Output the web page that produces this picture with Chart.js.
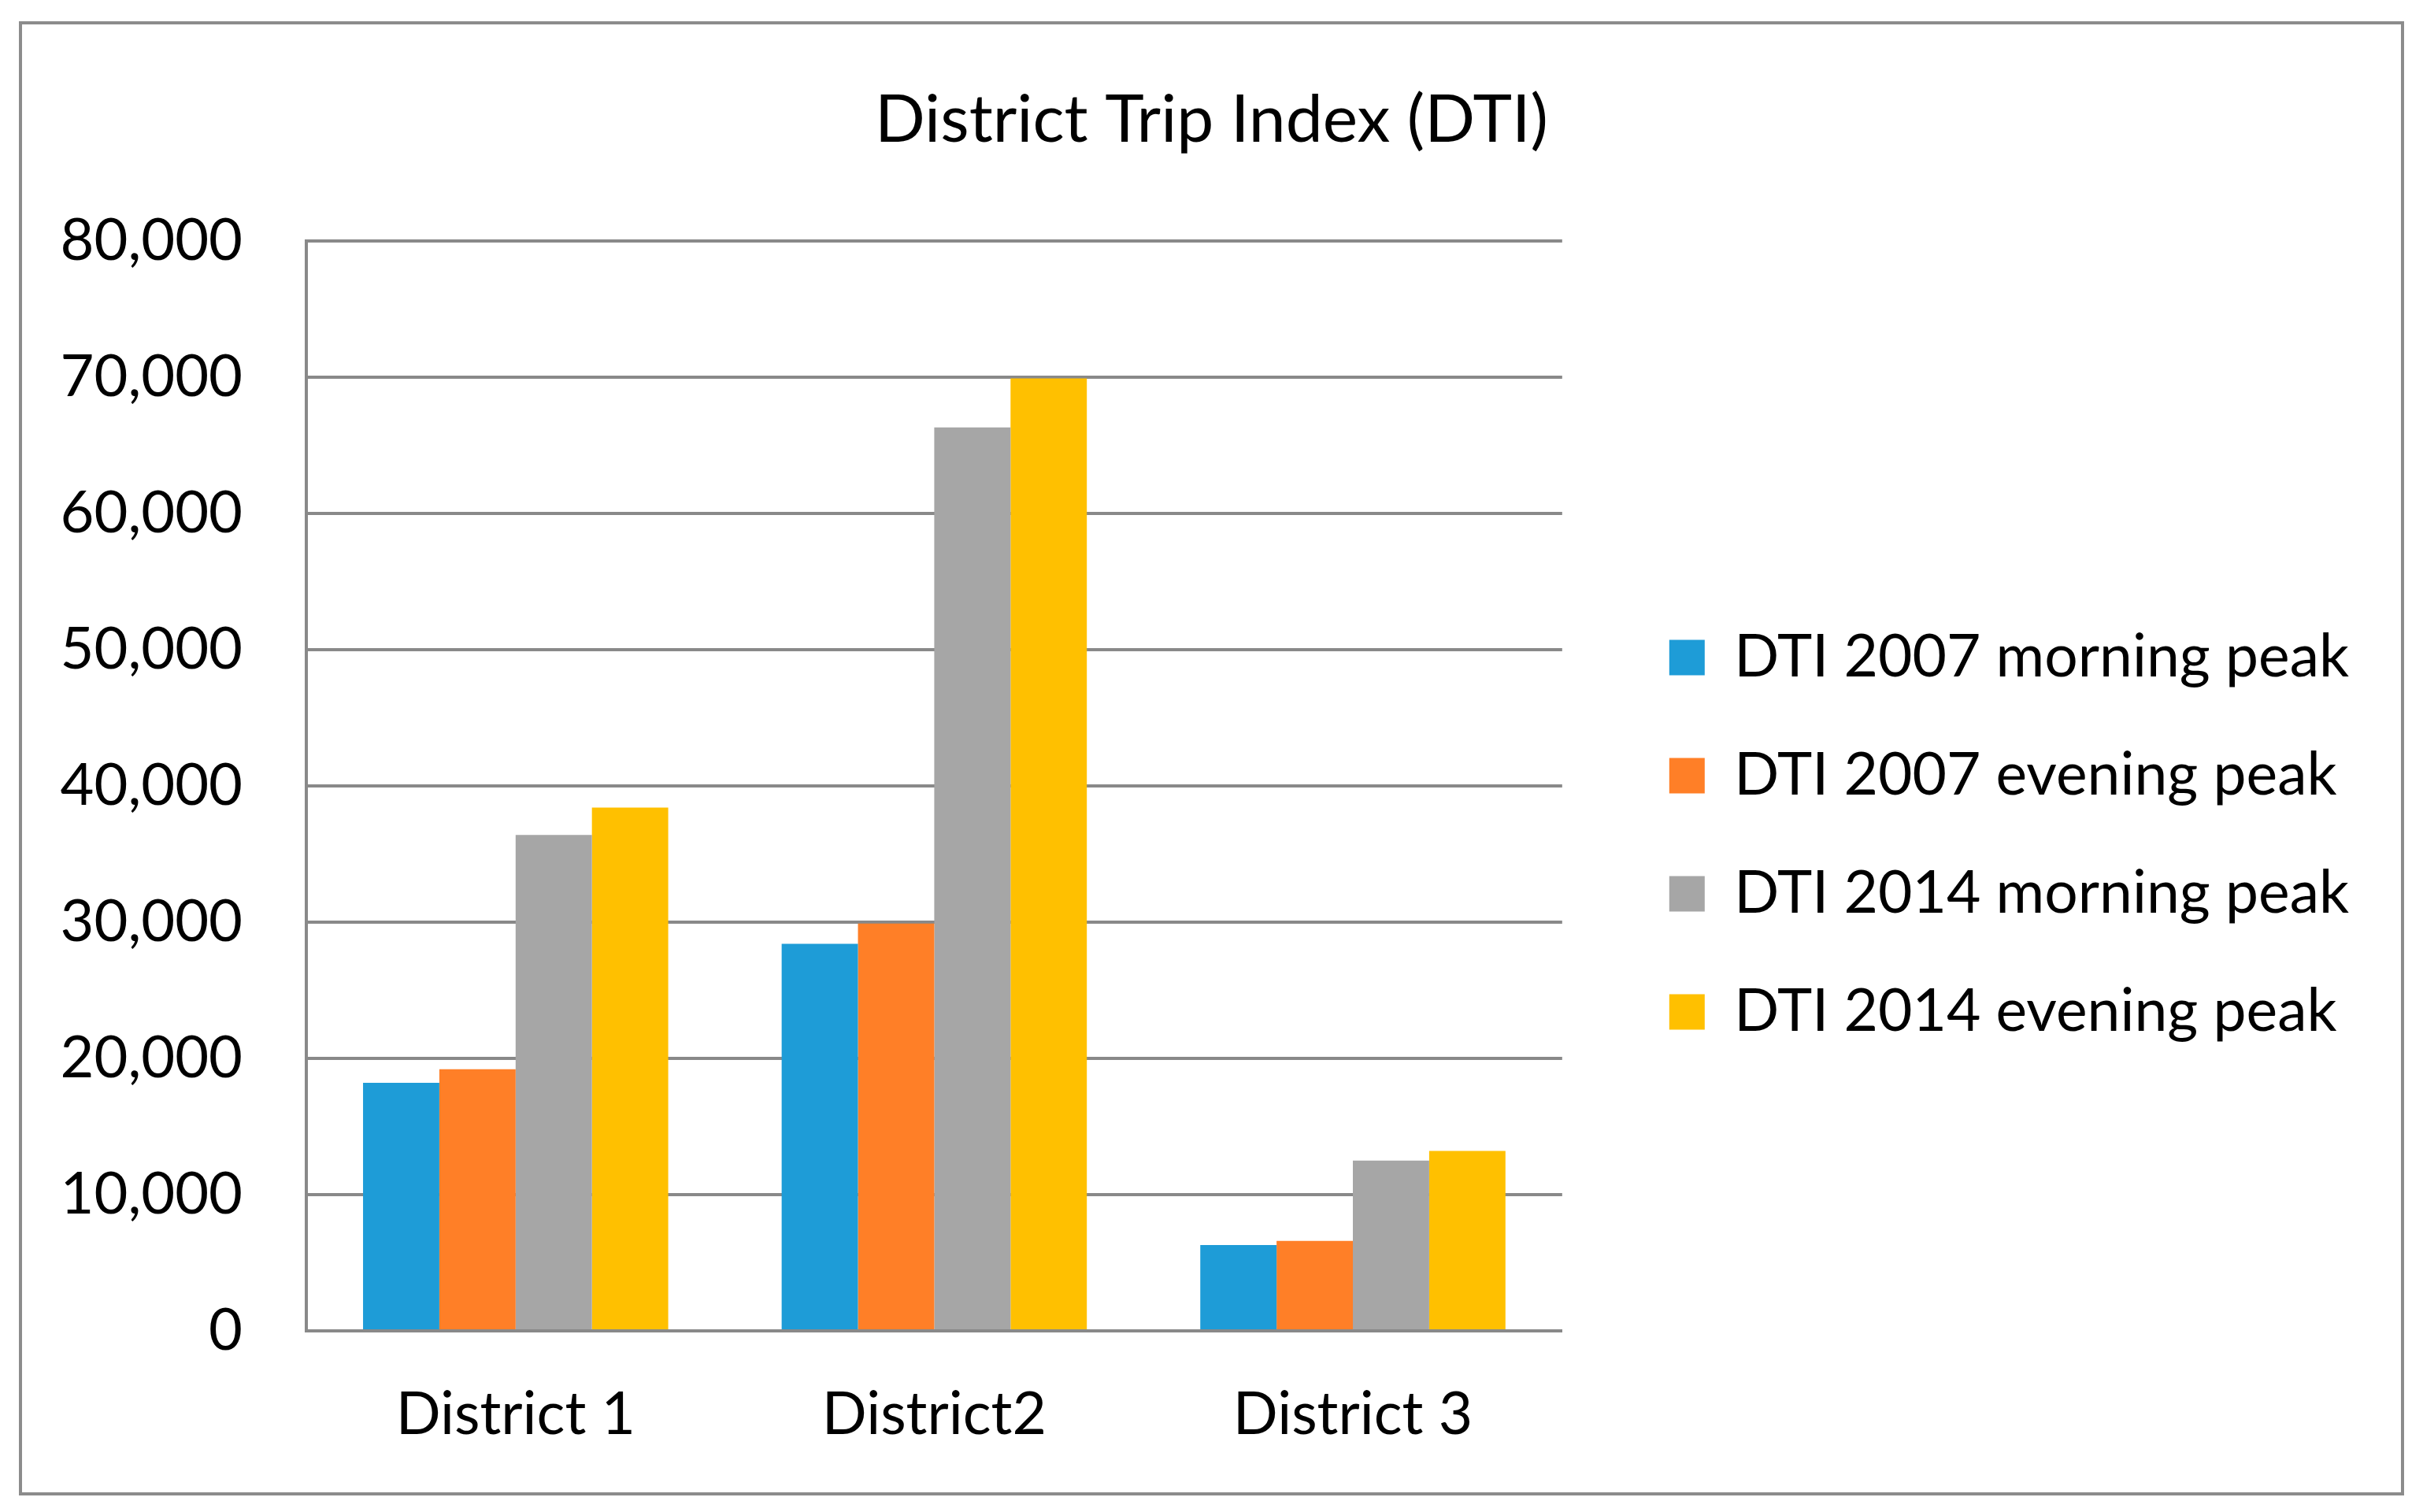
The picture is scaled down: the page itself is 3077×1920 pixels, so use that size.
<!DOCTYPE html>
<html>
<head>
<meta charset="utf-8">
<script src="https://cdn.jsdelivr.net/npm/chart.js@4.4.1/dist/chart.umd.min.js"></script>
<style>
  html, body { margin: 0; padding: 0; background: #fff; }
  #contenedor { position: relative; width: 3077px; height: 1920px; }
  #marco {
    position: absolute; left: 24px; top: 27px; width: 3029px; height: 1872px;
    box-sizing: border-box; border: 4px solid #8c8c8c; pointer-events: none;
  }
</style>
</head>
<body>
<div id="contenedor">
  <canvas id="grafico-dti"></canvas>
  <div id="marco"></div>
</div>
<script>
// Datos
const distritos = ["District 1", "District2", "District 3"];
const nombresSeries = [
  "DTI 2007 morning peak",
  "DTI 2007 evening peak",
  "DTI 2014 morning peak",
  "DTI 2014 evening peak",
];
const dti2007Manana = [18200, 28400, 6300];
const dti2007Tarde = [19200, 29900, 6600];
const dti2014Manana = [36400, 66300, 12500];
const dti2014Tarde = [38400, 69900, 13200];
const coloresSeries = ["#1e9cd7", "#ff7f27", "#a6a6a6", "#ffc000"];

// Eje Y
const ejeYMin = 0;
const ejeYMax = 80000;
const ejeYPaso = 10000;

const fuente = "Lato, 'Noto Sans', sans-serif";
const grisEje = "#898989";

// Recoloca leyenda y título (en Excel el título va centrado en todo el lienzo
// y la leyenda queda separada del área de trazado)
const recolocarCajas = {
  id: "recolocarCajas",
  afterLayout(chart) {
    const leyenda = chart.legend;
    const dx = 61;
    const dy = 108;
    leyenda.left += dx;
    leyenda.right += dx;
    leyenda.top += dy;
    leyenda.bottom += dy;

    const titulo = chart.titleBlock;
    const centroLienzo = chart.width / 2;
    const desfase = centroLienzo - (titulo.left + titulo.right) / 2;
    titulo.left += desfase;
    titulo.right += desfase;
  },
};

const valoresSeries = [dti2007Manana, dti2007Tarde, dti2014Manana, dti2014Tarde];

const ctx = document.querySelector("#grafico-dti").getContext("2d");

const graficoDTI = new Chart(ctx, {
  type: "bar",
  data: {
    labels: distritos,
    datasets: valoresSeries.map((valores, i) => ({
      label: nombresSeries[i],
      data: valores,
      backgroundColor: coloresSeries[i],
      borderWidth: 0,
      categoryPercentage: 0.729,
      barPercentage: 1.0,
    })),
  },
  options: {
    responsive: true,
    maintainAspectRatio: false,
    devicePixelRatio: 1,
    animation: false,
    layout: {
      padding: { left: 0, top: 0, right: 145, bottom: 16 },
    },
    scales: {
      x: {
        grid: { display: false, drawTicks: false },
        border: { display: true, color: grisEje, width: 4 },
        ticks: {
          color: "#000",
          padding: 62,
          font: { family: fuente, size: 75 },
        },
      },
      y: {
        min: ejeYMin,
        max: ejeYMax,
        grid: { color: grisEje, lineWidth: 4, drawTicks: false },
        border: { display: true, color: grisEje, width: 4 },
        ticks: {
          stepSize: ejeYPaso,
          color: "#000",
          padding: 81,
          font: { family: fuente, size: 74 },
          callback: (valor) => valor.toLocaleString("en-US"),
        },
        afterFit: (escala) => {
          escala.width = 389;
        },
      },
    },
    plugins: {
      title: {
        display: true,
        text: "District Trip Index (DTI)",
        color: "#000",
        font: { family: fuente, size: 84, weight: "normal" },
        padding: { top: 103, bottom: 102 },
      },
      legend: {
        display: true,
        position: "right",
        maxWidth: 1100,
        labels: {
          color: "#000",
          boxWidth: 45,
          boxHeight: 45,
          padding: 75,
          font: { family: fuente, size: 75 },
        },
      },
      tooltip: { enabled: false },
    },
  },
  plugins: [recolocarCajas],
});
</script>
</body>
</html>
